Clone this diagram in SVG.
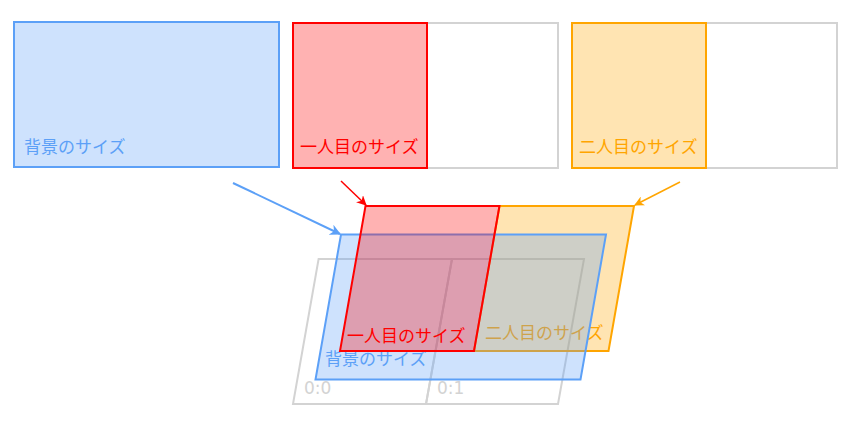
<svg xmlns="http://www.w3.org/2000/svg" width="850" height="430" viewBox="0 0 850 430">
<defs>
<style>
text{font-family:"DejaVu Sans","Noto Sans CJK JP",sans-serif;font-size:17px}
.bl{stroke:#5ca0f7;stroke-width:2;fill:#5ca0f7;fill-opacity:0.3}
.rd{stroke:#ff0000;stroke-width:2;fill:#ff0000;fill-opacity:0.3}
.or{stroke:#ffa500;stroke-width:2;fill:#ffa500;fill-opacity:0.3}
.gr{stroke:#d3d3d3;stroke-width:2;fill:none}
.tbl{fill:#5ca0f7}.trd{fill:#ff0000}.tor{fill:#ffa500}.tgr{fill:#d3d3d3}
</style>
<marker id="mb" viewBox="0 0 10 10" refX="9" refY="5" markerWidth="11" markerHeight="11" orient="auto" markerUnits="userSpaceOnUse"><path d="M0,0 L10,5 L0,10 L3,5z" fill="#5ca0f7"/></marker>
<marker id="mr" viewBox="0 0 10 10" refX="9" refY="5" markerWidth="10" markerHeight="10" orient="auto" markerUnits="userSpaceOnUse"><path d="M0,0 L10,5 L0,10 L3,5z" fill="#ff0000"/></marker>
<marker id="mo" viewBox="0 0 10 10" refX="9" refY="5" markerWidth="10" markerHeight="10" orient="auto" markerUnits="userSpaceOnUse"><path d="M0,0 L10,5 L0,10 L3,5z" fill="#ffa500"/></marker>
</defs>
<g id="bg-size">
<rect class="bl" x="14" y="22" width="265" height="145"/>
<text class="tbl" x="24" y="153">背景のサイズ</text>
</g>
<g id="first-size">
<rect class="gr" x="293" y="23" width="265" height="145"/>
<rect class="rd" x="293" y="23" width="134" height="145"/>
<text class="trd" x="300" y="153">一人目のサイズ</text>
</g>
<g id="second-size">
<rect class="gr" x="572" y="23" width="265" height="145"/>
<rect class="or" x="572" y="23" width="134" height="145"/>
<text class="tor" x="579" y="153">二人目のサイズ</text>
</g>
<g id="cell-0-0">
<polygon class="gr" points="318.6,259 452,259 426,404 293,404"/>
<text class="tgr" x="304" y="394">0:0</text>
</g>
<g id="cell-0-1">
<polygon class="gr" points="452,259 584,259 558,404 426,404"/>
<text class="tgr" x="437" y="394">0:1</text>
</g>
<g id="second-skewed">
<polygon class="or" points="499.5,206 634,206 608.5,351 474,351"/>
<text class="tor" x="485" y="339">二人目のサイズ</text>
</g>
<g id="bg-skewed">
<polygon class="bl" points="341,234.5 606,234.5 580.5,379.5 315.5,379.5"/>
<text class="tbl" x="325" y="365">背景のサイズ</text>
</g>
<g id="first-skewed">
<polygon class="rd" points="365.5,206 499.5,206 474,351 340,351"/>
<text class="trd" x="347" y="342">一人目のサイズ</text>
</g>
<g id="connectors" fill="none">
<line x1="233" y1="183" x2="340" y2="234" stroke="#5ca0f7" stroke-width="2" marker-end="url(#mb)"/>
<line x1="341" y1="181" x2="366" y2="205" stroke="#ff0000" stroke-width="1.5" marker-end="url(#mr)"/>
<line x1="680" y1="182" x2="635" y2="205" stroke="#ffa500" stroke-width="1.5" marker-end="url(#mo)"/>
</g>
</svg>
